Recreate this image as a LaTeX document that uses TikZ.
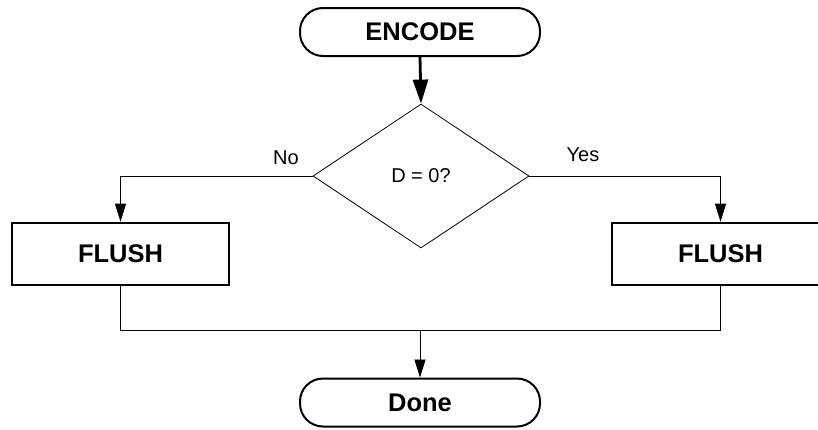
\documentclass[tikz,border=0pt]{standalone}
\usepackage{fontspec}
\setmainfont{Liberation Sans}
\usetikzlibrary{shapes.geometric,arrows.meta}
\begin{document}
\begin{tikzpicture}[x=1pt,y=-1pt,
  term/.style={draw,line width=2pt,rounded corners=23pt,minimum width=240pt,minimum height=48pt,inner sep=0pt,font=\fontsize{25.5}{28}\selectfont\bfseries},
  proc/.style={draw,line width=2.6pt,minimum width=217pt,minimum height=62pt,inner sep=0pt,font=\fontsize{25.5}{28}\selectfont\bfseries},
  dec/.style={draw,line width=0.8pt,diamond,aspect=1.5,minimum width=216pt,minimum height=144pt,inner sep=0pt,font=\fontsize{20}{23}\selectfont},
  lbl/.style={font=\fontsize{20}{23}\selectfont,inner sep=0pt},
  conn/.style={line width=0.9pt,-{Triangle[length=18pt,width=11pt]}},
  thick conn/.style={line width=2.8pt,-{Triangle[length=24pt,width=15pt]}},
  wire/.style={line width=0.9pt}]
\useasboundingbox (0,0) rectangle (818,429);
\clip (0,0) rectangle (818,429);
\node[term] (enc) at (420,32) {ENCODE};
\node[dec] (d) at (421,176) {D = 0?};
\node[proc] (f1) at (120.5,254) {FLUSH};
\node[proc] (f2) at (720.5,254) {FLUSH};
\node[term] (done) at (420,402.5) {Done};
\coordinate (m) at (420,330);
\node[lbl] at (286,158) {No};
\node[lbl] at (583,155) {Yes};
\draw[thick conn] (enc.south) -- (d.north);
\draw[conn] (d.west) -| (f1.north);
\draw[conn] (d.east) -| (f2.north);
\draw[wire] (f1.south) |- (m);
\draw[wire] (f2.south) |- (m);
\draw[conn] (m) -- (done.north);
\end{tikzpicture}
\end{document}
